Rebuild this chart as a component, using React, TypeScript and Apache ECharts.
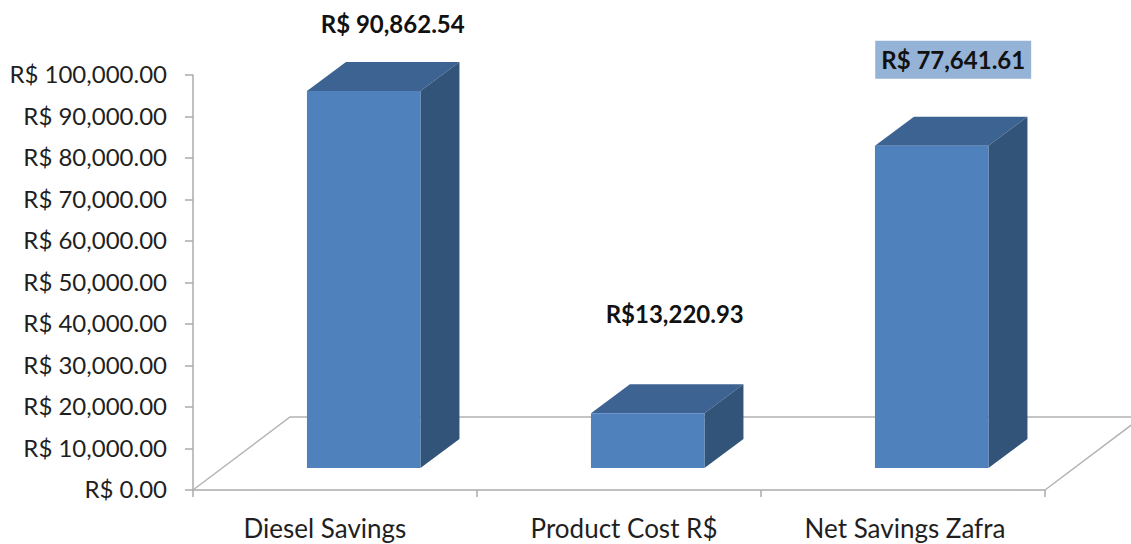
import React, { useEffect, useRef } from "react";
import * as echarts from "echarts";

const categories = ["Diesel Savings", "Product Cost R$", "Net Savings Zafra"];
const values = [90862.54, 13220.93, 77641.61];
const valueLabels = ["R$ 90,862.54", "R$13,220.93", "R$ 77,641.61"];
const yMin = 0;
const yMax = 100000;
const yInterval = 10000;

const FONT = "Lato, Carlito, sans-serif";
const BAR_W = 113.5;
const SHIFT_X = 28.7;
const SHIFT_Y = -22;
const DEPTH_X = 39;
const DEPTH_Y = -29;
const FLOOR_X = 97;
const FLOOR_Y = -73;
const labelOffsets = [[29, -67], [27, -100], [21.5, -86]];

const formatMoney = (v: number) =>
  "R$ " + v.toLocaleString("en-US", { minimumFractionDigits: 2, maximumFractionDigits: 2 });

function renderFloor(params: any, api: any) {
  const c = params.coordSys;
  const x0 = c.x;
  const x1 = c.x + c.width;
  const y0 = c.y + c.height;
  return {
    type: "polyline",
    silent: true,
    shape: {
      points: [
        [x0, y0],
        [x0 + FLOOR_X, y0 + FLOOR_Y],
        [x1 + FLOOR_X, y0 + FLOOR_Y],
        [x1, y0],
      ],
    },
    style: { fill: "none", stroke: "#B3B3B3", lineWidth: 1.5 },
  };
}

function renderBar(params: any, api: any) {
  const idx = params.dataIndex;
  const top = api.coord([api.value(0), api.value(1)]);
  const base = api.coord([api.value(0), 0]);
  const l = top[0] + SHIFT_X - BAR_W / 2;
  const r = l + BAR_W;
  const t = top[1] + SHIFT_Y;
  const b = base[1] + SHIFT_Y;
  const off = labelOffsets[idx];
  const highlighted = idx === 2;
  return {
    type: "group",
    children: [
      {
        type: "polygon",
        shape: { points: [[l, t], [r, t], [r + DEPTH_X, t + DEPTH_Y], [l + DEPTH_X, t + DEPTH_Y]] },
        style: { fill: "#3C6391" },
      },
      {
        type: "polygon",
        shape: { points: [[r, t], [r + DEPTH_X, t + DEPTH_Y], [r + DEPTH_X, b + DEPTH_Y], [r, b]] },
        style: { fill: "#325479" },
      },
      {
        type: "rect",
        shape: { x: l, y: t, width: BAR_W, height: b - t },
        style: { fill: "#4F81BD" },
      },
      {
        type: "text",
        x: (l + r) / 2 + off[0],
        y: t + off[1],
        style: {
          text: valueLabels[idx],
          font: "bold 24px " + FONT,
          fill: "#111111",
          align: "center",
          verticalAlign: "middle",
          backgroundColor: highlighted ? "#95B3D7" : undefined,
          padding: highlighted ? [7, 6, 7, 6] : 0,
        },
      },
    ],
  };
}

// nudges each category label sideways, as in the reference's layout
const categoryNudge = [
  { padding: [0, 20, 0, 0] },
  { padding: [0, 0, 0, 10] },
  { padding: [0, 0, 0, 4] },
];

export default function App() {
  const ref = useRef<HTMLDivElement>(null);
  useEffect(() => {
    document.body.style.margin = "0";
    const chart = echarts.init(ref.current!, null, { renderer: "svg" });
    const axisLine = { show: true, lineStyle: { color: "#ABABAB", width: 1.5 } };
    const catStyle = { fontFamily: FONT, fontSize: 26, color: "#1F1F1F", lineHeight: 26, height: 26 };
    const yStyle = { fontFamily: FONT, fontSize: 24, color: "#1F1F1F" };
    chart.setOption({
      animation: false,
      backgroundColor: "#FFFFFF",
      grid: { left: 193, right: 86, top: 75, bottom: 54, containLabel: false },
      xAxis: {
        type: "category",
        data: categories,
        boundaryGap: true,
        axisLine: { ...axisLine, onZero: false },
        axisTick: { show: true, length: 7, alignWithLabel: false, lineStyle: { color: "#ABABAB", width: 1.5 } },
        axisLabel: {
          ...catStyle,
          margin: 25,
          interval: 0,
          formatter: (v: string) => `{c${categories.indexOf(v)}|${v}}`,
          rich: Object.fromEntries(categoryNudge.map((n, i) => [`c${i}`, { ...catStyle, ...n }])),
        },
        splitLine: { show: false },
      },
      yAxis: {
        type: "value",
        min: yMin,
        max: yMax,
        interval: yInterval,
        axisLine,
        axisTick: { show: true, length: 8, lineStyle: { color: "#ABABAB", width: 1.5 } },
        axisLabel: {
          ...yStyle,
          margin: 26,
          formatter: (v: number) => `{v|${formatMoney(v)}}`,
          rich: { v: { ...yStyle, padding: [0, 0, 3, 0] } },
        },
        splitLine: { show: false },
      },
      series: [
        { type: "custom", clip: false, silent: true, z: 1, renderItem: renderFloor, data: [[0, 0]], encode: { x: 0, y: 1 } },
        {
          type: "custom",
          clip: false,
          silent: true,
          z: 2,
          renderItem: renderBar,
          data: values.map((v, i) => [i, v]),
          encode: { x: 0, y: 1 },
        },
      ],
    });
    return () => chart.dispose();
  }, []);
  return <div ref={ref} style={{ width: 1131, height: 544 }} />;
}
